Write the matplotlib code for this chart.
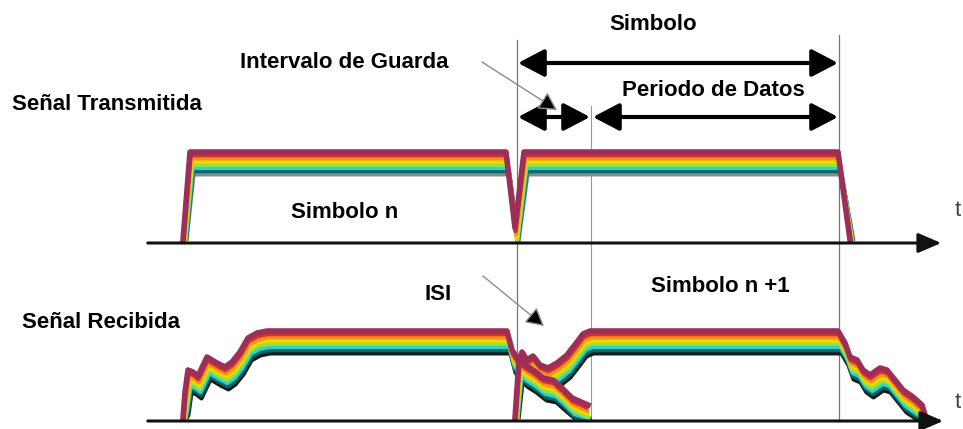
import numpy as np
import matplotlib.pyplot as plt
from matplotlib.patches import FancyArrowPatch

# Forma de onda transmitida (linea superior, en pixeles de la imagen)
tx_x = [183, 190, 506, 515, 524, 838, 850]
tx_y = [240, 152, 152, 228, 152, 152, 240]
tx_base = 243

# Señal recibida: simbolo n (con su cola) y simbolo n+1
rx_n_x = [183, 185, 188, 193, 198, 207, 217, 225, 232, 240, 248, 257, 267,
          507, 512, 517, 525, 533, 543, 553, 562, 572, 588]
rx_n_y = [418, 392, 370, 372, 376, 357, 363, 367, 362, 352, 338, 333, 331,
          331, 350, 358, 365, 370, 378, 380, 388, 398, 405]
rx_n1_x = [515, 519, 522, 527, 533, 540, 548, 557, 567, 577, 583, 590,
           838, 845, 850, 857, 863, 870, 880, 887, 895, 903, 913, 922, 926]
rx_n1_y = [418, 360, 352, 360, 356, 365, 368, 363, 355, 342, 334, 331,
           331, 343, 357, 360, 370, 375, 368, 370, 380, 390, 397, 405, 418]
rx_base = 421

# Bandas de color (de arriba hacia abajo)
band_colors = ['#9c2f5a', '#cc3333', '#ff8c1a', '#f2d600', '#99e03c',
               '#33d0c8', '#006b6b']
tx_shadow = '#8a8a8a'
rx_shadow = '#1a1a1a'

fig = plt.figure(figsize=(9.63, 4.29), dpi=100)
ax = fig.add_axes([0, 0, 1, 1])
ax.set_xlim(0, 963)
ax.set_ylim(429, 0)
ax.axis('off')

BOLD = dict(family=['Liberation Sans', 'DejaVu Sans'], fontweight='bold',
            fontsize=16, color='black')


def rainbow(x, y, base, shadow):
    x = np.asarray(x, dtype=float)
    y = np.asarray(y, dtype=float)
    cols = band_colors + [shadow]
    step = 3.2
    for i in range(len(cols) - 1, -1, -1):
        yy = np.minimum(y + i * step, base - 2)
        ax.plot(x + i * 0.5, yy, color=cols[i], lw=3.0, solid_joinstyle='round',
                solid_capstyle='butt', zorder=3 + (len(cols) - i) * 0.01)
    # borde superior algo mas grueso
    ax.plot(x, y, color=cols[0], lw=4.0, solid_joinstyle='round', zorder=3.2)


def axis_arrow(x0, x1, y):
    ax.add_patch(FancyArrowPatch((x0, y), (x1, y),
                                 arrowstyle='-|>,head_length=0.7,head_width=0.3',
                                 mutation_scale=20, lw=2.2, color='#111111',
                                 zorder=5))


def double_arrow(x0, x1, y):
    ax.add_patch(FancyArrowPatch((x0, y), (x1, y),
                                 arrowstyle='<|-|>,head_length=0.8,head_width=0.42',
                                 mutation_scale=20, lw=3.0, color='black',
                                 shrinkA=0, shrinkB=0, zorder=6))


def pointer(p0, p1):
    ax.add_patch(FancyArrowPatch(p0, p1,
                                 arrowstyle='-|>,head_length=0.55,head_width=0.3',
                                 mutation_scale=20, lw=1.0, ec='#8c8c8c',
                                 fc='black', shrinkA=0, shrinkB=0, zorder=6))


# lineas verticales de referencia
ax.plot([517, 517], [40, rx_base], color='#777777', lw=0.9, zorder=2)
ax.plot([591, 591], [106, rx_base], color='#999999', lw=0.8, zorder=2)
ax.plot([839, 839], [35, rx_base], color='#777777', lw=0.9, zorder=2)

# señales
rainbow(tx_x, tx_y, tx_base, tx_shadow)
rainbow(rx_n_x, rx_n_y, rx_base, rx_shadow)
rainbow(rx_n1_x, rx_n1_y, rx_base, rx_shadow)

# ejes de tiempo
axis_arrow(145, 944, tx_base)
axis_arrow(145, 946, rx_base)
ax.text(958, 210, 't', fontsize=16, color='#444444', ha='center', va='center',
        family=['Liberation Sans', 'DejaVu Sans'])
ax.text(958, 402, 't', fontsize=16, color='#444444', ha='center', va='center',
        family=['Liberation Sans', 'DejaVu Sans'])

# flechas de duracion
double_arrow(518, 838, 63)
double_arrow(518, 590, 117)
double_arrow(593, 838, 117)

pointer((482, 62), (557, 110))
pointer((483, 276), (544, 326))

# textos
ax.text(653, 24, 'Simbolo', ha='center', va='center', **BOLD)
ax.text(713, 90, 'Periodo de Datos', ha='center', va='center', **BOLD)
ax.text(240, 62, 'Intervalo de Guarda', ha='left', va='center', **BOLD)
ax.text(12, 105, 'Señal Transmitida', ha='left', va='center', **BOLD)
ax.text(345, 213, 'Simbolo n', ha='center', va='center', **BOLD)
ax.text(438, 295, 'ISI', ha='center', va='center', **BOLD)
ax.text(720, 287, 'Simbolo n +1', ha='center', va='center', **BOLD)
ax.text(22, 322, 'Señal Recibida', ha='left', va='center', **BOLD)

fig.savefig('out.png', dpi=100)
